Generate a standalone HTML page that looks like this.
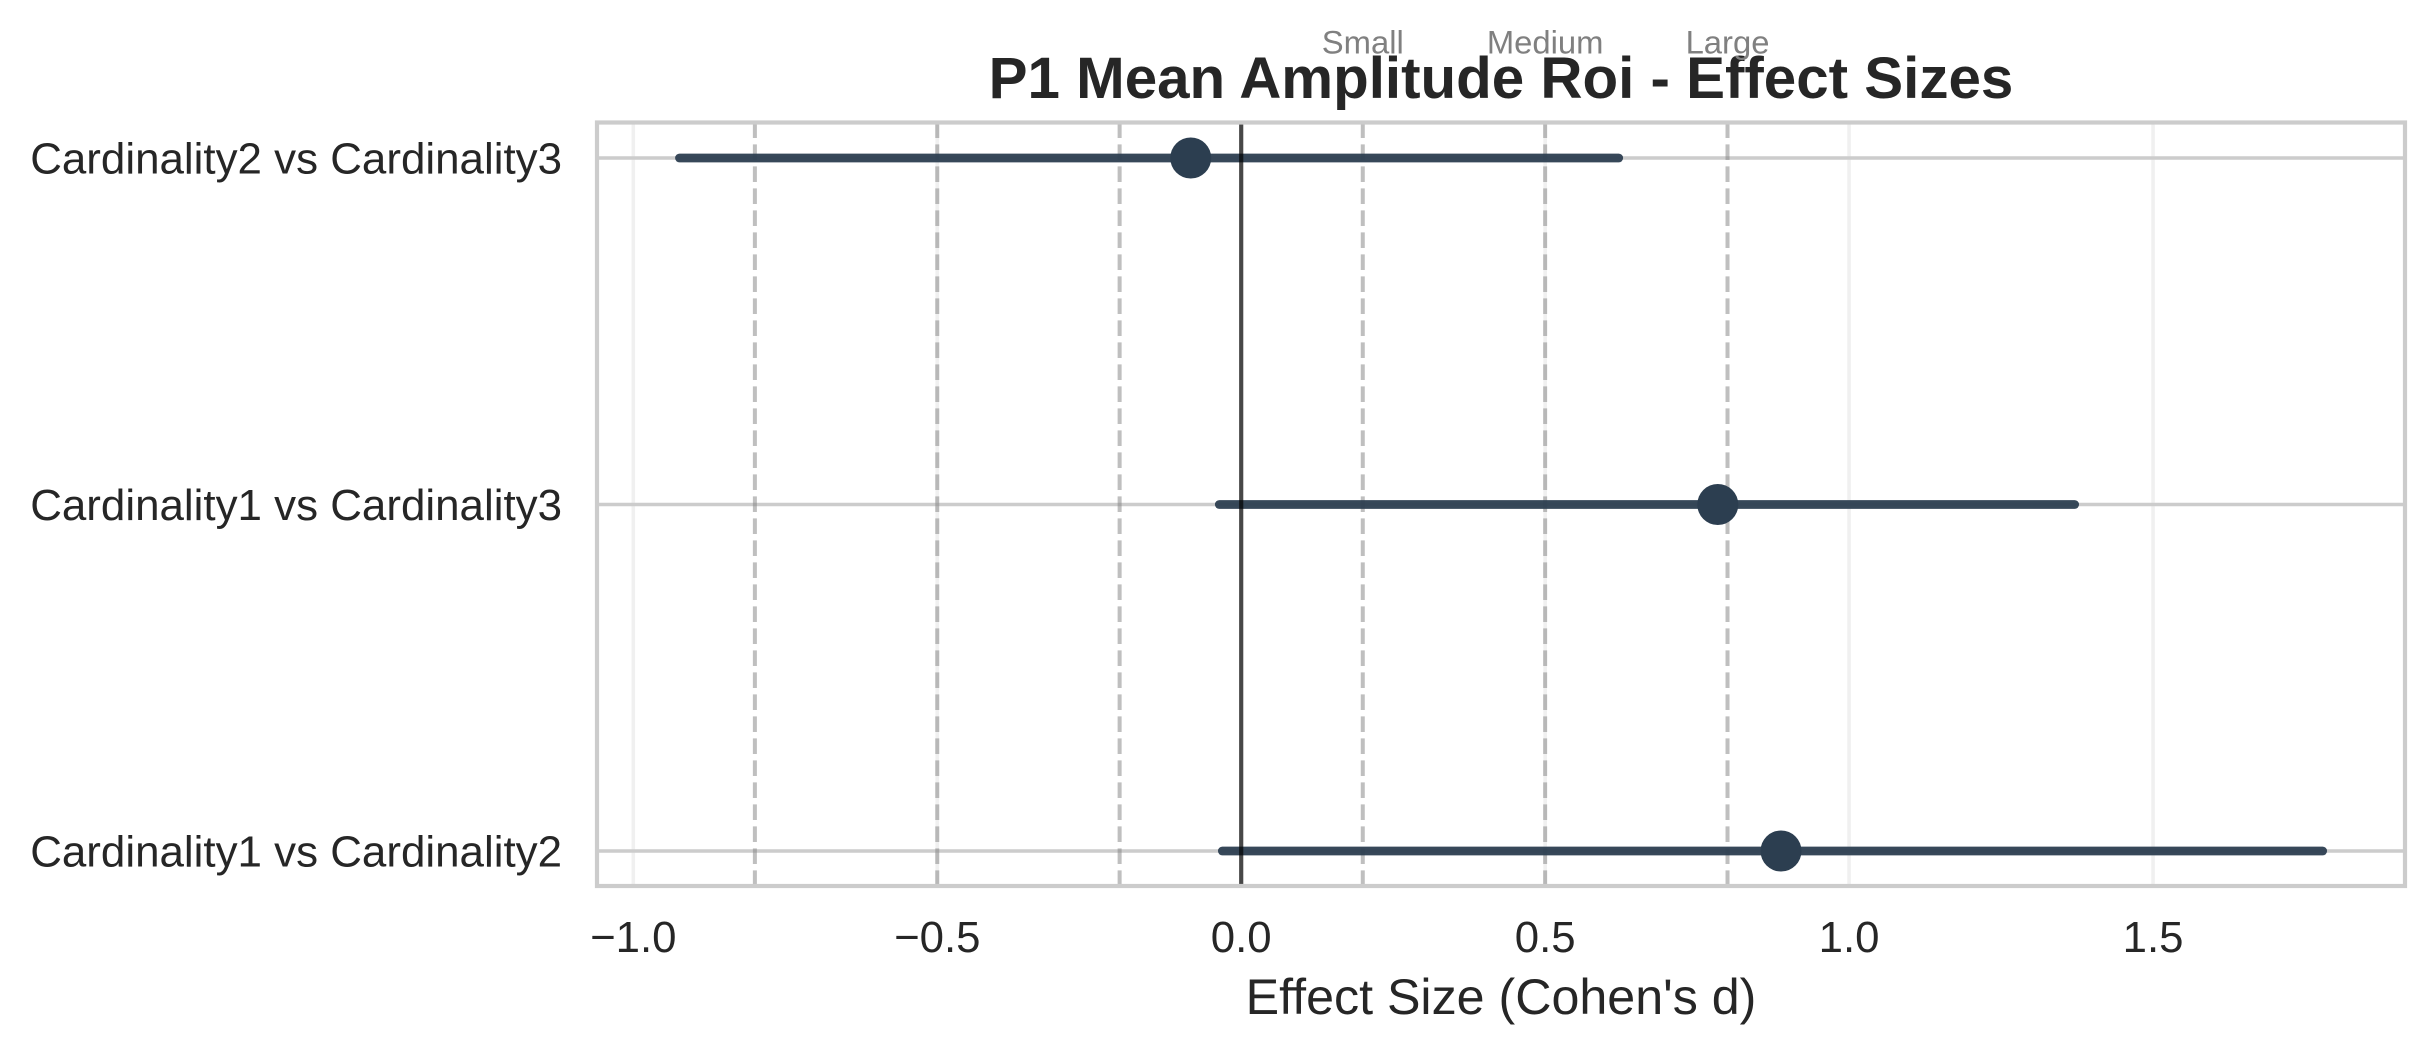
<!DOCTYPE html>
<html lang="en">
<head>
<meta charset="utf-8">
<title>P1 Mean Amplitude Roi - Effect Sizes</title>
<style>
html,body{margin:0;padding:0;background:#fff;width:2434px;height:1055px;overflow:hidden}
svg{display:block}
text{font-family:"Liberation Sans",Arial,sans-serif;fill:#262626}
</style>
</head>
<body>
<svg id="chart" xmlns="http://www.w3.org/2000/svg" width="2434" height="1055" viewBox="0 0 2434 1055">
<rect x="0" y="0" width="2434" height="1055" fill="#ffffff"/>
<text x="1501" y="98" font-size="58.3" font-weight="700" text-anchor="middle">P1 Mean Amplitude Roi - Effect Sizes</text>
<text x="1501" y="1014" font-size="50.2" text-anchor="middle">Effect Size (Cohen's d)</text>
</svg>
<script>
const categories = ["Cardinality2 vs Cardinality3", "Cardinality1 vs Cardinality3", "Cardinality1 vs Cardinality2"];
const effectSizes = [-0.083, 0.784, 0.888];
const ciLower = [-0.924, -0.036, -0.031];
const ciUpper = [0.621, 1.371, 1.779];
const xTickValues = [-1.0, -0.5, 0.0, 0.5, 1.0, 1.5];
const xTickLabels = ["\u22121.0", "\u22120.5", "0.0", "0.5", "1.0", "1.5"];
const thresholdValues = [-0.8, -0.5, -0.2, 0.2, 0.5, 0.8];
const benchmarkValues = [0.2, 0.5, 0.8];
const benchmarkLabels = ["Small", "Medium", "Large"];

const svg = document.getElementById('chart');
const NS = 'http://www.w3.org/2000/svg';
const plotLeft = 597, plotRight = 2405, plotTop = 122.5, plotBottom = 886;
const xZero = 1241.2, xPerUnit = 607.9;
const rowTop = 158, rowBottom = 851;

function xScale(v) { return xZero + v * xPerUnit; }
function yScale(i) { return rowTop + i * (rowBottom - rowTop) / (categories.length - 1); }

function make(tag, props) {
  const el = document.createElementNS(NS, tag);
  for (const k in props) el.setAttribute(k, props[k]);
  svg.appendChild(el);
  return el;
}

// vertical grid lines
xTickValues.forEach(function (v) {
  const el = make('line', {x1: xScale(v), x2: xScale(v), y1: plotTop, y2: plotBottom, stroke: '#cccccc', 'stroke-opacity': 0.3, 'stroke-width': 3.6});
  
  
});

// horizontal grid lines
categories.forEach(function (c, i) {
  const el = make('line', {x1: plotLeft, x2: plotRight, y1: yScale(i), y2: yScale(i), stroke: '#cccccc', 'stroke-width': 3.6});
  
  
});

// dashed effect-size thresholds, drawn from the bottom up
thresholdValues.forEach(function (v) {
  const el = make('line', {x1: xScale(v), x2: xScale(v), y1: plotBottom, y2: plotTop, stroke: '#808080', 'stroke-opacity': 0.5, 'stroke-width': 4, 'stroke-dasharray': '15.6 6.4'});
  
  
});

// confidence intervals
categories.forEach(function (c, i) {
  const el = make('line', {x1: xScale(ciLower[i]), x2: xScale(ciUpper[i]), y1: yScale(i), y2: yScale(i), stroke: '#2c3e50', 'stroke-opacity': 0.95, 'stroke-width': 8.8, 'stroke-linecap': 'round'});
  
  
});

// zero reference line
const zeroLine = make('line', {x1: xScale(0), x2: xScale(0), y1: plotTop, y2: plotBottom, stroke: '#000000', 'stroke-opacity': 0.7, 'stroke-width': 4.2});



// point estimates
categories.forEach(function (c, i) {
  const el = make('circle', {cx: xScale(effectSizes[i]), cy: yScale(i), r: 20.5, fill: '#2c3e50'});
  
  
});

// plot frame
const frame = make('rect', {x: plotLeft, y: plotTop, width: plotRight - plotLeft, height: plotBottom - plotTop, fill: 'none', stroke: '#cccccc', 'stroke-width': 4.2});



// x tick labels
xTickValues.forEach(function (v, i) {
  const el = make('text', {x: xScale(v), y: 952, 'font-size': 43.75, 'text-anchor': 'middle'});
  el.textContent = xTickLabels[i];
  
  
});

// y tick labels
categories.forEach(function (c, i) {
  const el = make('text', {x: 562, y: yScale(i) + 15.5, 'font-size': 43.9, 'text-anchor': 'end'});
  el.textContent = c;
  
  
});

// benchmark labels
benchmarkValues.forEach(function (v, i) {
  const el = make('text', {x: xScale(v), y: 53.5, 'font-size': 32.8, 'text-anchor': 'middle'});
  el.style.fill = '#808080';
  el.textContent = benchmarkLabels[i];
  
  
});
</script>
</body>
</html>
